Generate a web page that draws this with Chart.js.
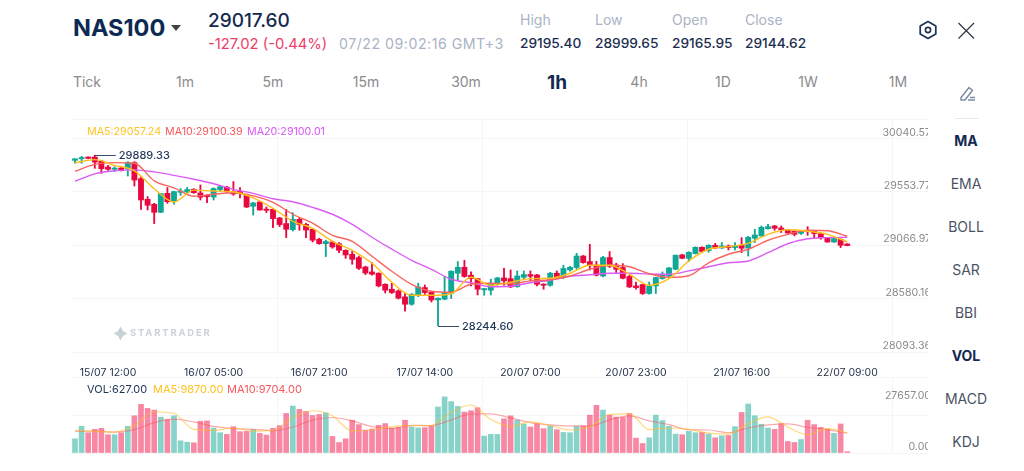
<!DOCTYPE html>
<html><head><meta charset="utf-8">
<script src="https://cdn.jsdelivr.net/npm/chart.js@4"></script>
<style>
html,body{margin:0;padding:0;background:#fff;width:1024px;height:471px;overflow:hidden;font-family:Inter,"Noto Sans",sans-serif}
.t{position:absolute;white-space:nowrap;line-height:1;transform:translateY(-50%)}
.c{transform:translate(-50%,-50%)}
canvas{position:absolute;display:block}
</style></head><body>
<canvas id="price" style="left:72px;top:118px;width:856px;height:258px" width="856" height="258"></canvas>
<canvas id="vol" style="left:72px;top:376px;width:856px;height:79px" width="856" height="79"></canvas>
<div id="ui"></div>
<svg style="position:absolute;left:916px;top:18px" width="62" height="24" fill="none">
<path d="M12 3.5l7.8 4.5v8l-7.8 4.5L4.2 16V8z" stroke="#1c3358" stroke-width="1.7" stroke-linejoin="round"/><circle cx="12" cy="12" r="2.6" stroke="#1c3358" stroke-width="1.6"/>
<path d="M42.500 5L58 20.500M58 5L42.500 20.500" stroke="#2a3344" stroke-width="1.2"/></svg>
<svg style="position:absolute;left:957px;top:83px" width="20" height="20" fill="none">
<path d="M4 14.500L12 4.500l3.500 2.800L8 17H4z" stroke="#7f8ca3" stroke-width="1.500" stroke-linejoin="round"/><path d="M11 17h7M13 14.500h5" stroke="#7f8ca3" stroke-width="1.300"/></svg>
<div style="position:absolute;left:955px;top:118px;width:24px;height:1px;background:#e6e8ec"></div>
<svg style="position:absolute;left:113px;top:326px" width="15" height="15"><path d="M7.500 0.500L10 5l4.500 2.500L10 10l-2.500 4.500L5 10 0.500 7.500 5 5z" fill="#c8d2d6"/></svg>
<script>
const opens=[29842,29856,29872,29872,29835,29781,29760,29772,29766,29821,29675,29486,29441,29368,29541,29465,29550,29553,29577,29544,29523,29507,29575,29598,29559,29559,29523,29423,29462,29395,29395,29316,29265,29210,29304,29258,29213,29122,29082,29097,29082,29021,28985,28955,28869,28824,28812,28711,28666,28650,28596,28529,28614,28681,28639,28568,28575,28629,28812,28866,28794,28763,28660,28657,28711,28769,28763,28690,28775,28800,28796,28711,28702,28812,28778,28842,28864,28969,28918,28887,28787,28955,28887,28864,28782,28696,28709,28627,28696,28763,28787,28848,28979,28948,28991,29049,29019,29067,29042,29061,29046,29067,29042,29131,29152,29219,29243,29225,29210,29195,29176,29201,29195,29174,29137,29097,29122,29079];
const highs=[29856,29878,29874,29889,29840,29796,29784,29778,29830,29830,29693,29511,29450,29541,29593,29559,29584,29596,29584,29617,29529,29591,29608,29605,29648,29593,29527,29459,29468,29416,29400,29322,29395,29365,29320,29268,29217,29131,29113,29106,29092,29026,29015,28969,28876,28909,28816,28716,28721,28660,28627,28627,28721,28705,28648,28588,28782,28834,28918,28930,28824,28766,28675,28757,28775,28857,28842,28833,28833,28833,28803,28716,28821,28833,28885,28876,28994,28974,29076,28921,28967,29010,28903,28900,28794,28732,28711,28732,28775,28824,28866,28979,28985,29008,29053,29053,29072,29085,29092,29070,29092,29137,29149,29213,29243,29258,29249,29243,29213,29199,29201,29237,29199,29176,29140,29131,29126,29081];
const lows=[29817,29815,29856,29769,29723,29751,29739,29744,29699,29608,29395,29389,29265,29364,29450,29443,29523,29544,29541,29480,29456,29480,29559,29550,29523,29498,29411,29343,29386,29365,29228,29237,29137,29197,29204,29137,29097,29076,28964,29040,29000,28948,28894,28845,28800,28794,28687,28632,28627,28577,28465,28520,28599,28618,28550,28333,28570,28581,28748,28775,28696,28614,28611,28614,28702,28702,28681,28684,28751,28742,28696,28666,28693,28763,28763,28830,28848,28903,28842,28787,28778,28864,28818,28760,28681,28666,28618,28620,28627,28757,28784,28844,28944,28918,28987,29000,29003,29037,29037,29024,29024,29000,28969,29092,29149,29213,29204,29183,29176,29152,29167,29158,29131,29122,29094,29094,29046,29062];
const closes=[29856,29865,29860,29826,29766,29760,29764,29751,29821,29662,29480,29432,29368,29538,29465,29557,29562,29575,29547,29505,29511,29584,29602,29557,29535,29541,29416,29453,29389,29386,29310,29256,29213,29304,29256,29206,29113,29082,29101,29052,29021,28979,28939,28857,28814,28803,28696,28657,28636,28584,28529,28620,28687,28636,28568,28584,28636,28830,28866,28782,28763,28666,28672,28721,28769,28742,28687,28787,28800,28784,28711,28702,28812,28773,28855,28866,28969,28909,28887,28794,28955,28876,28848,28766,28687,28681,28627,28696,28773,28794,28860,28976,28948,29003,29049,29010,29067,29042,29061,29046,29064,29040,29140,29161,29231,29237,29222,29210,29179,29167,29195,29192,29174,29137,29097,29128,29067,29064];
const volumes=[6917,13011,9882,11529,12023,8894,8894,9882,13011,18117,23717,21740,20917,17458,16305,18117,5929,5270,4941,15482,15647,12188,9882,9059,12847,10376,10541,11364,9553,8729,12023,13341,19270,22893,21246,20258,18282,18776,19599,8070,5106,6917,15976,13835,11200,11694,13505,14329,12188,12517,15976,12682,12188,12353,13176,22399,27340,25034,22729,19929,20588,22070,8235,9059,9059,16635,18117,15976,14164,12682,14164,11858,13176,11364,10047,9882,13011,13176,18446,23223,20917,18446,17458,17458,19270,7247,4612,7412,18446,15811,13011,9223,8894,10541,9882,10047,9223,7412,8400,8564,12847,19764,23882,18117,13999,12188,11529,14329,5600,5106,6588,15976,13835,12517,11694,9553,14164,627];
const maIndex=[0,3,6,9,12,15,18,21,24,27,30,33,36,39,42,45,48,51,54,57,60,63,66,69,72,75,78,81,84,87,90,93,96,99,102,105,108,111,114,117];
const ma5=[29819,29848,29796,29746,29582,29462,29570,29562,29555,29500,29404,29286,29222,29103,29021,28903,28730,28611,28611,28625,28775,28702,28730,28763,28766,28812,28885,28885,28803,28702,28762,28924,29031,29055,29085,29167,29208,29195,29167,29097];
const ma10=[29742,29805,29821,29815,29655,29591,29514,29532,29546,29518,29459,29350,29268,29158,29103,28967,28830,28711,28648,28639,28711,28721,28716,28742,28752,28787,28848,28885,28871,28807,28775,28789,28907,28985,29031,29113,29167,29204,29199,29149];
const ma20=[29650,29719,29746,29755,29737,29705,29669,29628,29577,29541,29491,29464,29413,29350,29258,29140,29031,28930,28848,28757,28725,28689,28693,28725,28748,28784,28798,28812,28812,28805,28803,28833,28871,28907,28924,28999,29081,29126,29137,29140];
const volMa5=[11035,10541,10211,13505,20093,19270,11529,11035,12188,10706,11035,17294,20588,18117,10706,11200,12847,13341,13505,19764,23387,16305,13011,15152,13341,11200,12682,18776,19105,11364,12188,11529,9717,9223,14329,17623,12682,8894,11858,9870];
const volMa10=[10541,10706,10211,11364,14823,16470,15152,13011,11858,11529,10870,12682,15976,17294,15647,12847,11858,13505,13341,16141,19105,19105,17129,14823,13670,13176,13176,16141,18117,15647,13835,11364,11200,9882,12188,13670,14164,12517,11364,9704];
const priceTicks=[28093.36,28580.16,29066.97,29553.77,30040.57];
const volTicks=[0,27657];
const timeTickIndex=[5,21,37,53,69,85,101,117];
const timeLabels=['15/07 12:00','16/07 05:00','16/07 21:00','17/07 14:00','20/07 07:00','20/07 23:00','21/07 16:00','22/07 09:00'];
const tabs=['Tick','1m','5m','15m','30m','1h','4h','1D','1W','1M'];
const sideMenu=['MA','EMA','BOLL','SAR','BBI','VOL','MACD','KDJ'];
const hiLabel='29889.33', loLabel='28244.60';

const UP='#0FA796', DOWN='#E8083F';
const ui=document.getElementById('ui');
function T(s,x,y,size,color,weight,center,ls){const d=document.createElement('div');d.className='t'+(center?' c':'');d.textContent=s;
 d.style.cssText=`left:${x}px;top:${y}px;font-size:${size}px;color:${color};font-weight:${weight||400};`+(ls?`letter-spacing:${ls}px;`:'');ui.appendChild(d);}
T('NAS100',73,28,23.5,'#0d2a55',700);
T('29017.60',208,20,19,'#13294f',500);
T('-127.02 (-0.44%)',208,44,14.8,'#ee3d66',400);
T('07/22 09:02:16 GMT+3',339,44,14.2,'#a9b3c5',400,false,0.5);
[['High','29195.40',520],['Low','28999.65',595],['Open','29165.95',672],['Close','29144.62',745]].forEach(a=>{T(a[0],a[2],20,14,'#a9b3c5');T(a[1],a[2],44,13.7,'#1b2d50',500)});
const tabX=[87,185,273,366,466,557,639,723,808,898];
tabs.forEach((t,i)=>{t==='1h'?T(t,tabX[i],82,19,'#13294f',700,true):T(t,tabX[i],82,14,'#8b8b8b',400,true)});
const sideY=[141,184,227,270,313,356,399,442];
sideMenu.forEach((t,i)=>{(t==='MA'||t==='VOL')?T(t,966,sideY[i],14,'#13294f',700,true):T(t,966,sideY[i],14,'#4a5364',400,true)});
T('MA5:29057.24',87,132,10.7,'#FFC21F');T('MA10:29100.39',165,132,10.7,'#F9575C');T('MA20:29100.01',247,132,10.7,'#D856F5');
T('VOL:627.00',87,389,11,'#1f3557');T('MA5:9870.00',153,389,11,'#FFC21F');T('MA10:9704.00',227,389,11,'#F9575C');
T('STARTRADER',130,333,9.5,'#cbd3d8',700,false,1.8);
const tri=document.createElement('div');tri.style.cssText='position:absolute;left:171px;top:25px;width:0;height:0;border-left:5px solid transparent;border-right:5px solid transparent;border-top:6px solid #444';ui.appendChild(tri);

const idx=opens.map((_,i)=>i);
const GRID='#f4f5f6', XMIN=-0.4545, XMAX=129.24;
const noPad=a=>{a.paddingTop=0;a.paddingBottom=0;a.paddingLeft=0;a.paddingRight=0};
const candleColor=c=>{const i=c.dataIndex;return closes[i]>=opens[i]?UP:DOWN};
const gridX=()=>({type:'linear',min:XMIN,max:XMAX,position:'bottom',offset:false,
  afterBuildTicks:a=>{a.ticks=[1,2,3,4].map(k=>({value:XMIN+k*(XMAX-XMIN)*205/856}))},
  afterFit:a=>{a.height=0;noPad(a)},border:{display:false},
  grid:{color:GRID,drawTicks:false,lineWidth:1,offset:false},ticks:{display:false}});
const line=(arr,c,w)=>({type:'line',data:maIndex.map((x,k)=>({x,y:arr[k]})),borderColor:c,borderWidth:w,pointRadius:0,cubicInterpolationMode:'monotone',order:0,xAxisID:'x'});
const marks={id:'marks',afterDatasetsDraw(ch){
  const x=ch.scales.x,y=ch.scales.y,c=ch.ctx;
  const hi=highs.indexOf(Math.max(...highs)),lo=lows.indexOf(Math.min(...lows));
  c.save();c.font='500 11px Inter';c.textBaseline='middle';c.lineWidth=1;c.strokeStyle='#3a4d70';c.fillStyle='#1f3557';
  [[hi,highs[hi],hiLabel],[lo,lows[lo],loLabel]].forEach(a=>{const px=x.getPixelForValue(a[0]),py=Math.round(y.getPixelForValue(a[1]))+0.5;
    c.beginPath();c.moveTo(px,py);c.lineTo(px+21,py);c.stroke();c.fillText(a[2],px+24,py);});
  c.restore();}};

new Chart(document.getElementById('price'),{
 data:{datasets:[
  line(ma5,'#FFBE1A',1.4),line(ma10,'#F9645F',1.4),line(ma20,'#D95CF5',1.4),
  {type:'bar',grouped:false,data:idx.map(i=>({x:i,y:[opens[i],closes[i]]})),backgroundColor:candleColor,barThickness:5.2,minBarLength:1.2,order:1},
  {type:'bar',grouped:false,data:idx.map(i=>({x:i,y:[lows[i],highs[i]]})),backgroundColor:candleColor,barThickness:1.2,order:2}
 ]},
 plugins:[marks],
 options:{responsive:false,animation:false,devicePixelRatio:1,layout:{padding:{top:1,bottom:0,left:0,right:0}},
  plugins:{legend:{display:false},tooltip:{enabled:false}},
  scales:{
   x:{type:'linear',min:XMIN,max:XMAX,position:'bottom',offset:false,
     afterBuildTicks:a=>{a.ticks=timeTickIndex.map(v=>({value:v}))},
     afterFit:a=>{a.height=24;noPad(a)},grid:{display:false,offset:false},border:{display:false},
     ticks:{autoSkip:false,maxRotation:0,padding:7,color:'#1f2d44',font:{size:10.5,family:'Inter'},
       callback:v=>timeLabels[timeTickIndex.indexOf(v)]}},
   xg:gridX(),
   y:{type:'linear',position:'right',min:28093.36,max:30219,
     afterBuildTicks:a=>{a.ticks=priceTicks.concat([30219]).map(v=>({value:v}))},
     afterFit:a=>{a.width=0;noPad(a)},
     border:{display:false},grid:{color:GRID,drawTicks:false,lineWidth:1},
     ticks:{mirror:true,padding:3,labelOffset:-6,color:'#8a8a8a',font:{size:10.6,family:'Inter'},autoSkip:false,
       callback:v=>priceTicks.includes(v)?v.toFixed(2):''}}
  }}});

const volColor=c=>{const i=c.dataIndex;return closes[i]>=opens[i]?'rgba(15,167,150,.5)':'rgba(240,15,70,.5)'};
new Chart(document.getElementById('vol'),{
 data:{datasets:[
  line(volMa5,'rgba(255,190,40,.6)',1.2),line(volMa10,'rgba(249,90,90,.5)',1.2),
  {type:'bar',data:idx.map(i=>({x:i,y:volumes[i]})),backgroundColor:volColor,barThickness:5,order:1}
 ]},
 options:{responsive:false,animation:false,devicePixelRatio:1,layout:{padding:{top:1,bottom:2}},
  plugins:{legend:{display:false},tooltip:{enabled:false}},
  scales:{
   x:{type:'linear',min:XMIN,max:XMAX,display:false,offset:false,grid:{offset:false}},
   xg:gridX(),
   y:{type:'linear',position:'right',min:0,max:37040,
     afterBuildTicks:a=>{a.ticks=[0,18520,37040].map(v=>({value:v}))},
     afterFit:a=>{a.width=0;noPad(a)},
     border:{display:false},grid:{color:GRID,drawTicks:false},ticks:{display:false}},
   yl:{type:'linear',position:'right',min:0,max:37040,
     afterBuildTicks:a=>{a.ticks=volTicks.map(v=>({value:v}))},
     afterFit:a=>{a.width=0;noPad(a)},
     border:{display:false},grid:{display:false,drawTicks:false},
     ticks:{mirror:true,padding:3,color:'#8a8a8a',font:{size:10.6,family:'Inter'},autoSkip:false,
       callback:v=>v===0?['0.00','']:v.toFixed(2)}}
  }}});
</script>
</body></html>
